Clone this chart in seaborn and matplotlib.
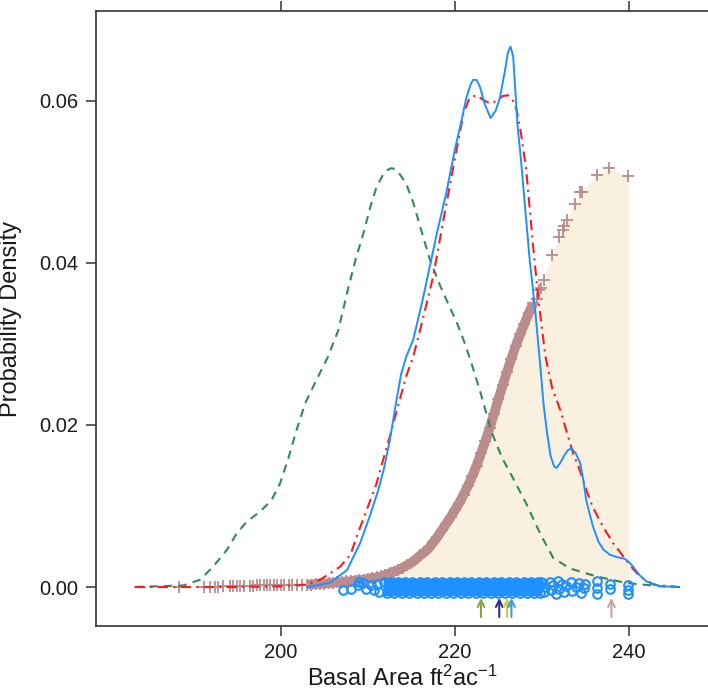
import matplotlib
matplotlib.use("Agg")

import matplotlib.pyplot as plt

import pandas as pd

import seaborn as sns


# ==========================================
# DATA
# ==========================================

green_x = [183.2, 186.0, 188.8, 190.7, 192.2, 193.8, 194.9, 196.1, 197.6, 198.9,
           199.9, 200.8, 201.8, 202.8, 204.1, 205.4, 206.6, 207.6, 208.6, 209.5,
           210.3, 211.0, 211.8, 212.3, 212.7, 213.1, 213.5, 214.4, 215.2, 216.0,
           217.1, 218.3, 219.3, 220.2, 221.0, 221.8, 223.0, 224.2, 225.4, 226.7,
           228.2, 229.8, 231.3, 233.2, 236.3, 239.7, 243.6, 245.9]
green_y = [0.0, 0.0001, 0.0002, 0.0009, 0.0025, 0.0046, 0.0066, 0.0081, 0.0093, 0.0107,
           0.0128, 0.0157, 0.0194, 0.0227, 0.0256, 0.0284, 0.0317, 0.0363, 0.0405, 0.0437,
           0.0470, 0.0494, 0.0510, 0.0515, 0.0517, 0.0516, 0.0512, 0.0498, 0.0475, 0.0445,
           0.0405, 0.0372, 0.0348, 0.0327, 0.0305, 0.0280, 0.0238, 0.0192, 0.0160, 0.0134,
           0.0103, 0.0066, 0.0036, 0.0023, 0.0013, 0.0005, 0.0001, 0.0]

blue_x = [203.0, 205.6, 207.6, 209.1, 210.2, 211.2, 211.8, 212.5, 213.2, 213.8,
          214.4, 215.2, 216.2, 217.1, 218.0, 219.0, 220.0, 220.6, 221.3, 221.8,
          222.1, 222.5, 222.9, 223.4, 224.1, 224.7, 225.2, 225.8, 226.1, 226.4,
          226.7, 227.2, 227.6, 228.1, 228.6, 229.2, 229.8, 230.2, 230.6, 231.0,
          231.4, 231.7, 232.1, 232.5, 233.0, 233.4, 233.9, 234.4, 234.8, 235.1,
          235.5, 235.9, 236.5, 237.1, 237.8, 238.6, 239.5, 240.0, 240.5, 241.2,
          242.0, 243.6, 245.6]
blue_y = [0.0, 0.0005, 0.0021, 0.0054, 0.0087, 0.0120, 0.0144, 0.0180, 0.0225, 0.0262,
          0.0284, 0.0305, 0.0350, 0.0395, 0.0440, 0.0486, 0.0540, 0.0568, 0.0603, 0.0620,
          0.0626, 0.0626, 0.0617, 0.0597, 0.0579, 0.0588, 0.0605, 0.0640, 0.0660, 0.0667,
          0.0655, 0.0570, 0.0527, 0.0465, 0.0404, 0.0345, 0.0275, 0.0225, 0.0190, 0.0162,
          0.0149, 0.0147, 0.0153, 0.0161, 0.0169, 0.0171, 0.0165, 0.0153, 0.0130, 0.0107,
          0.0090, 0.0074, 0.0056, 0.0046, 0.0040, 0.0037, 0.0035, 0.0031, 0.0025, 0.0015,
          0.0007, 0.0001, 0.0]

red_x = [183.2, 195.0, 200.0, 203.0, 204.5, 206.8, 208.0, 208.7, 210.0, 211.0,
         211.4, 212.5, 213.5, 214.4, 215.2, 216.3, 217.5, 218.8, 220.2, 221.0,
         221.7, 222.5, 223.3, 224.0, 224.8, 225.5, 226.1, 226.6, 227.1, 227.6,
         228.2, 229.0, 229.6, 230.4, 231.2, 232.1, 232.9, 233.6, 234.4, 235.1,
         235.8, 236.6, 237.4, 238.2, 239.0, 239.7, 240.5, 241.3, 242.8, 245.6]
red_y = [0.0, 0.0, 0.0001, 0.0003, 0.0009, 0.0025, 0.0040, 0.0062, 0.0099, 0.0128,
         0.0144, 0.0185, 0.0225, 0.0260, 0.0284, 0.0330, 0.0383, 0.0460, 0.0540, 0.0585,
         0.0604, 0.0607, 0.0601, 0.0597, 0.0600, 0.0606, 0.0607, 0.0602, 0.0589, 0.0560,
         0.0515, 0.0420, 0.0355, 0.0285, 0.0245, 0.0219, 0.0190, 0.0165, 0.0143, 0.0120,
         0.0100, 0.0083, 0.0068, 0.0054, 0.0043, 0.0033, 0.0022, 0.0013, 0.0003, 0.0]

# rosy "+" points: sparse left part, dense band, sparse upper part
plus_x = [188.3, 191.2, 191.8, 192.4, 192.8, 193.3, 194.1, 194.5, 194.9, 195.3,
          195.8, 196.4, 196.8, 197.2, 197.6, 198.0, 198.4, 198.8, 199.2, 199.6,
          200.0, 200.4, 200.9, 201.3, 201.8, 202.4,
          203.0, 203.5, 204.0, 204.5, 205.0, 205.5, 206.0, 206.5, 207.0, 207.5,
          208.0, 208.5, 209.0, 209.5, 210.0, 210.5, 211.0, 211.5, 212.0, 212.5,
          213.0, 213.5, 214.0, 214.5, 215.0, 215.5, 216.0, 216.5, 217.0, 217.5,
          218.0, 218.5, 219.0, 219.5, 220.0, 220.5, 221.0, 221.5, 222.0, 222.5,
          223.0, 223.5, 224.0, 224.5, 225.0, 225.5, 226.0, 226.5, 227.0, 227.5,
          228.0, 228.5, 229.0,
          229.4, 229.7, 229.9, 230.2, 231.2, 232.0, 232.4, 232.6, 232.9, 233.8,
          234.4, 234.6, 236.3, 237.7, 239.9]
plus_y = [0.0, 0.0, 0.0, 0.0, 0.0, 0.0001, 0.0001, 0.0001, 0.0001, 0.0001,
          0.0001, 0.0001, 0.0001, 0.0002, 0.0002, 0.0002, 0.0002, 0.0002, 0.0002, 0.0002,
          0.0002, 0.0002, 0.0002, 0.0003, 0.0003, 0.0003,
          0.0003, 0.0003, 0.0004, 0.0004, 0.0004, 0.0005, 0.0005, 0.0006, 0.0006, 0.0007,
          0.0007, 0.0008, 0.0009, 0.0009, 0.0010, 0.0011, 0.0012, 0.0013, 0.0015, 0.0017,
          0.0019, 0.0021, 0.0024, 0.0027, 0.0030, 0.0034, 0.0039, 0.0043, 0.0048, 0.0055,
          0.0062, 0.0070, 0.0078, 0.0086, 0.0095, 0.0104, 0.0114, 0.0125, 0.0137, 0.0150,
          0.0165, 0.0180, 0.0196, 0.0214, 0.0232, 0.0249, 0.0266, 0.0282, 0.0298, 0.0312,
          0.0325, 0.0338, 0.0350,
          0.0356, 0.0367, 0.0369, 0.0379, 0.0410, 0.0432, 0.0441, 0.0446, 0.0453, 0.0473,
          0.0487, 0.0488, 0.0509, 0.0517, 0.0507]

# blue open circles along zero
rug_x = [207.1, 208.0, 208.9, 209.0, 209.4, 209.8, 210.3, 210.7, 211.0, 211.3,
         211.8, 212.6, 213.5, 214.3, 215.1, 216.0, 216.8, 217.7, 218.5, 219.4,
         220.2, 221.1, 221.9, 222.8, 223.6, 224.5, 225.3, 226.2, 227.0, 227.9,
         228.7, 229.5, 229.9,
         212.2, 213.0, 213.9, 214.7, 215.6, 216.4, 217.3, 218.1, 219.0, 219.8,
         220.7, 221.5, 222.4, 223.2, 224.1, 224.9, 225.8, 226.6, 227.5, 228.3,
         229.1, 229.8,
         230.1, 230.2, 230.4, 230.9, 231.0, 231.3, 231.6, 231.8, 232.0, 232.3,
         232.5, 232.8, 233.4, 233.5, 233.9, 234.3, 234.5, 234.8, 235.0, 236.3,
         236.3, 236.3, 237.8, 237.8, 239.9, 239.9, 239.9]
rug_y = [-0.0004, -0.0003, 0.0003, 0.0006, 0.0005, -0.0002, 0.0002, -0.0004, 0.0004, -0.0006,
         0.0006, 0.0006, 0.0006, 0.0006, 0.0006, 0.0006, 0.0006, 0.0006, 0.0006, 0.0006,
         0.0006, 0.0006, 0.0006, 0.0006, 0.0006, 0.0006, 0.0006, 0.0006, 0.0006, 0.0006,
         0.0006, 0.0006, 0.0006,
         -0.0007, -0.0007, -0.0007, -0.0007, -0.0007, -0.0007, -0.0007, -0.0007, -0.0007, -0.0007,
         -0.0007, -0.0007, -0.0007, -0.0007, -0.0007, -0.0007, -0.0007, -0.0007, -0.0007, -0.0007,
         -0.0007, -0.0007,
         0.0005, -0.0006, 0.0000, 0.0006, -0.0004, 0.0002, -0.0008, 0.0007, -0.0002, 0.0004,
         -0.0006, 0.0001, 0.0006, -0.0005, 0.0000, 0.0005, -0.0007, -0.0001, 0.0004, 0.0007,
         -0.0001, -0.0008, 0.0004, -0.0003, 0.0002, -0.0004, -0.0009]

# dense part of the rug (solid band)
band_x = [211.7, 230.0]

arrow_x = [223.0, 225.1, 226.0, 226.5, 238.0]
arrow_colors = ["#8FA040", "#2E2E95", "#C8D040", "#3A9BE6", "#C9A3A3"]

fill_start = 213.0
fill_end = 240.0


# ==========================================
# STYLE
# ==========================================

sns.set_theme(style="ticks")

plt.rcParams["font.family"] = ["Liberation Sans", "DejaVu Sans"]
plt.rcParams["mathtext.fontset"] = "custom"
plt.rcParams["mathtext.rm"] = "Liberation Sans"
plt.rcParams["mathtext.default"] = "regular"

frame_color = "#333333"
text_color = "#1a1a1a"

fig = plt.figure(figsize=(7.08, 6.96), dpi=100)

ax = fig.add_axes([96 / 708, 1 - 626 / 696, 1 - 96 / 708, (626 - 11) / 696])


# ==========================================
# SHADED AREA UNDER THE "+" CURVE
# ==========================================

plus_frame = pd.DataFrame({"x": plus_x, "y": plus_y})

shade = plus_frame[(plus_frame["x"] >= fill_start)]
shade_x = list(shade["x"]) + [fill_end]
shade_y = list(shade["y"]) + [shade["y"].iloc[-1]]

ax.fill_between(shade_x, 0, shade_y, color="#FAF0E0", lw=0, zorder=1)


# ==========================================
# "+" POINTS
# ==========================================

rosy = "#BA8C8C"

band = plus_frame[(plus_frame["x"] >= 203.0) & (plus_frame["x"] <= 229.0)]

ax.plot(band["x"], band["y"], color=rosy, lw=7,
        solid_capstyle="butt", zorder=2)

ax.plot(plus_frame["x"], plus_frame["y"], ls="none", marker="+",
        ms=9, mew=1.3, color=rosy, zorder=2)


# ==========================================
# DENSITY CURVES
# ==========================================

sns.lineplot(x=green_x, y=green_y, ax=ax, color="#2E8B57", lw=1.5,
             linestyle=(0, (4, 3)), zorder=3)

sns.lineplot(x=red_x, y=red_y, ax=ax, color="#FF1A1A", lw=1.5,
             linestyle=(0, (5, 2.5, 1, 2.5)), zorder=4)

sns.lineplot(x=blue_x, y=blue_y, ax=ax, color="#1E90FF", lw=1.4, zorder=5)


# ==========================================
# RUG CIRCLES
# ==========================================

ax.plot(band_x, [0, 0], color="#1E90FF", lw=12.5,
        solid_capstyle="butt", zorder=6)

ax.plot(rug_x, rug_y, ls="none", marker="o", ms=6.2, mfc="none",
        mec="#1E90FF", mew=1.5, zorder=6)


# ==========================================
# ARROWS
# ==========================================

for x, c in zip(arrow_x, arrow_colors):

    ax.annotate("", xy=(x, -0.00135), xytext=(x, -0.0037),
                arrowprops=dict(arrowstyle="->", color=c, lw=1.5,
                                mutation_scale=12, shrinkA=0, shrinkB=0),
                zorder=7)


# ==========================================
# AXES
# ==========================================

ax.set_xlim(178.74, 249.1)
ax.set_ylim(-0.00481, 0.0711)

ax.set_xticks([200, 220, 240])
ax.set_yticks([0.0, 0.02, 0.04, 0.06])
ax.set_yticklabels(["0.00", "0.02", "0.04", "0.06"])

ax.tick_params(axis="both", direction="out", length=7, width=1.1,
               color=frame_color, labelsize=14.5, labelcolor=text_color, pad=6)
ax.tick_params(axis="x", top=True, labeltop=False, pad=5)

for side in ["left", "bottom", "top"]:
    ax.spines[side].set_color(frame_color)
    ax.spines[side].set_linewidth(1.2)

ax.spines["right"].set_visible(False)

ax.set_xlabel("Basal Area ft$^{2}$ac$^{-1}$", fontsize=17, color=text_color, labelpad=3)
ax.set_ylabel("Probability Density", fontsize=17, color=text_color, labelpad=12)

fig.savefig("out.png", dpi=100)
